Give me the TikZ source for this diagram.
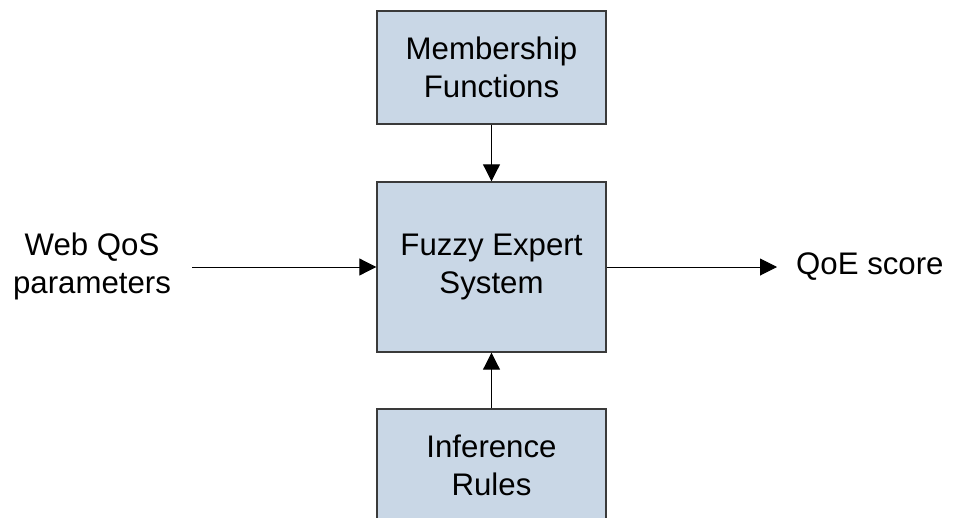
\documentclass[tikz,border=0pt]{standalone}
\usepackage{fontspec}
\setmainfont{Liberation Sans}
\usetikzlibrary{arrows.meta}
\definecolor{boxfill}{HTML}{C9D7E6}
\definecolor{boxdraw}{HTML}{3A3A3A}
\begin{document}
\begin{tikzpicture}[x=1pt,y=-1pt,
  block/.style={draw=boxdraw, line width=1.4pt, fill=boxfill, minimum width=229pt, inner sep=0pt, align=center,
    font=\fontsize{31.2}{38}\selectfont},
  lbl/.style={align=center, inner sep=0pt, font=\fontsize{31.2}{38}\selectfont},
  conn/.style={line width=1pt, -{Triangle[length=17pt,width=17pt]}}]
\useasboundingbox (0,0) rectangle (956,517);
\node[block, minimum height=113pt] (mf) at (491.5,67.5) {Membership\\Functions};
\node[block, minimum height=170pt] (fes) at (491.5,267) {Fuzzy Expert\\System};
\node[block, minimum height=113pt, text depth=0pt] (ir) at (491.5,465.5) {};
\node[lbl] (irt) at (491.5,465) {Inference\\Rules};
\node[lbl] (in) at (92,266) {Web QoS\\parameters};
\node[lbl, anchor=west] (out) at (796,267) {QoE score};
\coordinate (ins) at (192,267);
\coordinate (oute) at (777,267);
\draw[conn] (mf.south) -- (fes.north);
\draw[conn] (ir.north) -- (fes.south);
\draw[conn] (ins) -- (fes.west);
\draw[conn] (fes.east) -- (oute);
\end{tikzpicture}
\end{document}
